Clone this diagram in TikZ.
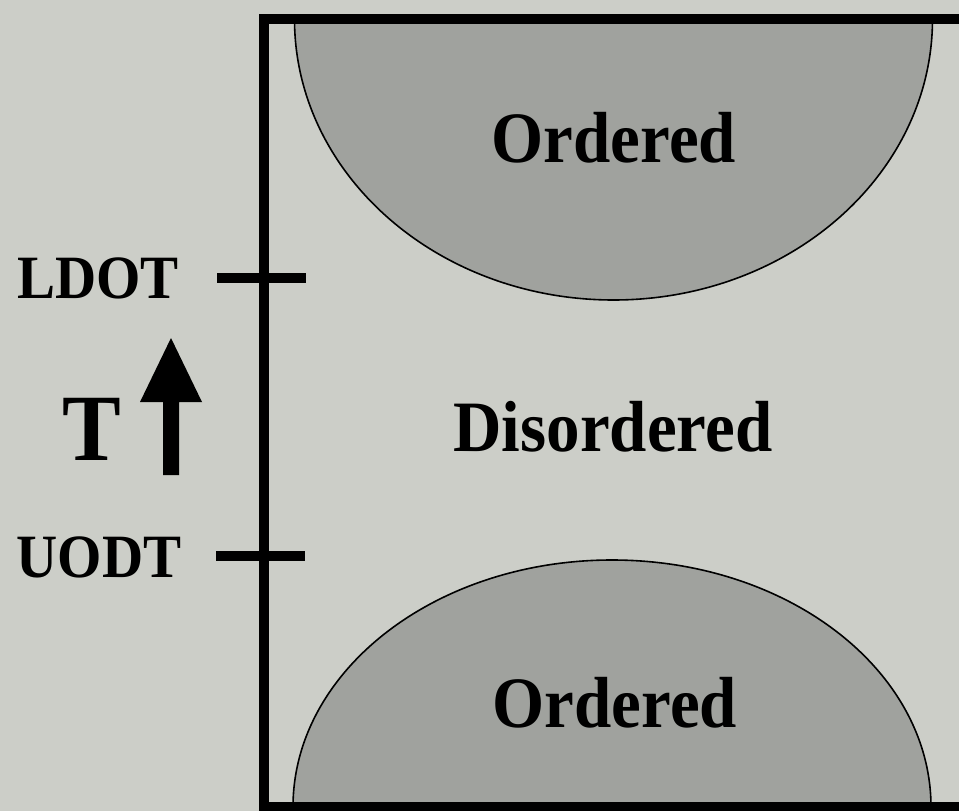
\documentclass[tikz,border=0pt]{standalone}
\usepackage{fontspec}
\usepackage{graphicx}
\setmainfont{Liberation Serif}
\definecolor{paper}{RGB}{204,206,200}
\definecolor{phase}{RGB}{160,162,158}
% slightly tall bold lettering
\newcommand{\tallbold}[1]{\scalebox{1}[1.08]{#1}}
\begin{document}
\begin{tikzpicture}[x=1pt,y=-1pt,
  frame/.style={line width=10pt,black},
  tick/.style={line width=10pt,black},
  region/.style={fill=phase,draw=black,line width=1.6pt},
  biglabel/.style={font=\fontsize{67}{70}\selectfont\bfseries,inner sep=0pt,anchor=base},
  sidelabel/.style={font=\fontsize{57}{60}\selectfont\bfseries,inner sep=0pt,anchor=base}]
  % canvas
  \fill[paper] (0,0) rectangle (959,811);
  \useasboundingbox (0,0) rectangle (959,811);

  % ordered regions, clipped to the inside of the frame
  \begin{scope}
    \clip (264,19) rectangle (990,807);
    \draw[region] (613.5,19) ellipse [x radius=319pt, y radius=281pt];
    \draw[region] (612,807) ellipse [x radius=319pt, y radius=247pt];
  \end{scope}

  % frame corners (right side runs off the page)
  \coordinate (tl) at (264,14);
  \coordinate (tr) at (990,19);
  \coordinate (bl) at (264,820);
  \coordinate (br) at (990,807);
  \draw[frame] (tl |- tr) -- (tr);
  \draw[frame] (bl |- br) -- (br);
  \draw[frame] (tl) -- (bl);

  % transition temperature ticks
  \coordinate (ldotA) at (217,278);
  \coordinate (ldotB) at (306,278);
  \coordinate (uodtA) at (216,556);
  \coordinate (uodtB) at (305,556);
  \draw[tick] (ldotA) -- (ldotB);
  \draw[tick] (uodtA) -- (uodtB);

  % labels
  \node[sidelabel] (ldot) at (98,298) {\tallbold{LDOT}};
  \node[sidelabel] (uodt) at (99,577) {\tallbold{UODT}};
  \node[font=\fontsize{88}{90}\selectfont\bfseries,inner sep=0pt,anchor=base] (temp) at (91.5,460) {\tallbold{T}};
  \node[biglabel] (ordtop) at (614,162) {\tallbold{Ordered}};
  \node[biglabel] (dis) at (613,451) {\tallbold{Disordered}};
  \node[biglabel] (ordbot) at (615,727) {\tallbold{Ordered}};

  % temperature arrow
  \fill[black] (163,475) -- (163,402) -- (140,402) -- (171,338) -- (202,402)
    -- (179,402) -- (179,475) -- cycle;
\end{tikzpicture}
\end{document}
